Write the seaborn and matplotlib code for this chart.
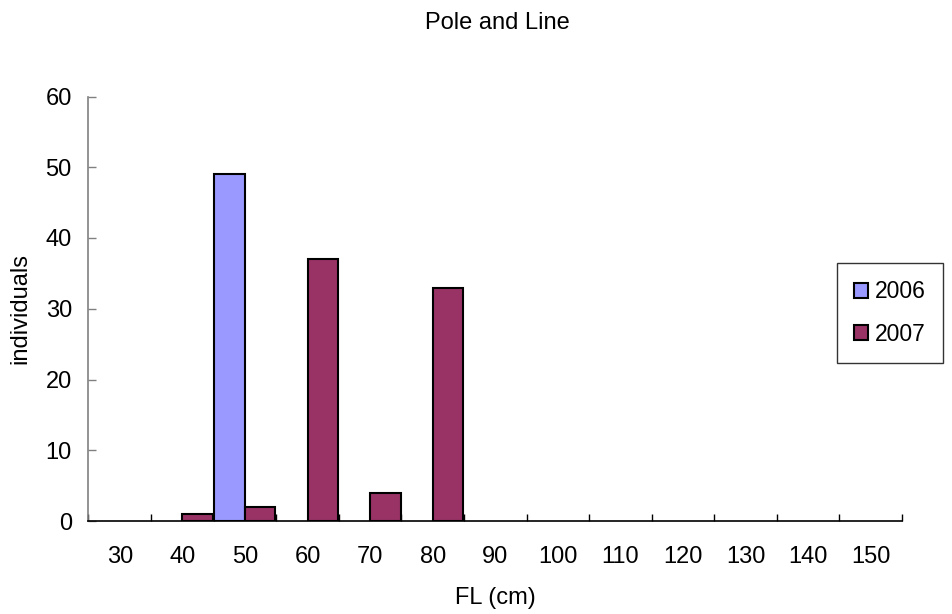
import numpy as np
import pandas as pd
import seaborn as sns
import matplotlib.pyplot as plt
from matplotlib.ticker import FixedLocator

# FL classes (cm) and counts per year
fl_classes = ["30", "40", "50", "60", "70", "80", "90", "100", "110", "120", "130", "140", "150"]
years = ["2006", "2007"]
counts_2006 = [0, 0, 49, 0, 0, 0, 0, 0, 0, 0, 0, 0, 0]
counts_2007 = [0, 1, 2, 37, 4, 33, 0, 0, 0, 0, 0, 0, 0]

rows = []
for year, vals in zip(years, [counts_2006, counts_2007]):
    for fl, v in zip(fl_classes, vals):
        if v > 0:
            rows.append({"FL": fl, "year": year, "count": v})
df = pd.DataFrame(rows)

sns.set_style("white")
plt.rcParams["font.family"] = ["Liberation Sans", "DejaVu Sans"]
plt.rcParams["text.color"] = "black"
plt.rcParams["axes.labelcolor"] = "black"

fig = plt.figure(figsize=(9.53, 6.14), dpi=100)
# plot area: x 88.5..902 px, y 96.5..521 px
ax = fig.add_axes([88.5 / 953, 1 - 521 / 614, 813.5 / 953, 424.5 / 614])

sns.barplot(data=df, x="FL", y="count", hue="year", order=fl_classes, hue_order=years,
            palette=["#9999FF", "#993366"], width=0.975, gap=0, edgecolor="black",
            linewidth=1.5, ax=ax, errorbar=None, saturation=1)

ax.set_xlim(-0.5, len(fl_classes) - 0.5)
ax.set_ylim(0, 60)
ax.set_yticks(range(0, 61, 10))

# tick marks between classes, labels centred
ax.xaxis.set_minor_locator(FixedLocator(np.arange(-0.5, len(fl_classes), 1.0)))
ax.tick_params(axis="x", which="major", bottom=True, length=0, pad=18, labelsize=17,
               labelcolor="black")
ax.tick_params(axis="x", which="minor", bottom=True, length=5, width=1, color="black",
               direction="in")
ax.tick_params(axis="y", left=True, length=6, width=1, color="#808080", direction="in",
               labelsize=17, pad=12, labelcolor="black")

for s in ["top", "right"]:
    ax.spines[s].set_visible(False)
ax.spines["left"].set_color("#808080")
ax.spines["left"].set_linewidth(1.2)
ax.spines["bottom"].set_color("black")
ax.spines["bottom"].set_linewidth(1.2)

ax.set_xlabel("FL (cm)", fontsize=17, labelpad=14)
ax.set_ylabel("individuals", fontsize=17, labelpad=10)
fig.text(497 / 953, 1 - 23 / 614, "Pole and Line", ha="center", va="center", fontsize=17)

leg = ax.legend(loc="upper left", bbox_to_anchor=((837 - 88.5) / 813.5, (521 - 263) / 424.5),
                borderaxespad=0, fontsize=16.5, frameon=True, fancybox=False,
                edgecolor="black", handlelength=0.62, handleheight=0.62,
                handletextpad=0.3, labelspacing=0.85, borderpad=0.75, title=None)
leg.get_frame().set_linewidth(1)
for h in leg.legend_handles:
    h.set_linewidth(1.5)

fig.savefig("out.png", dpi=100)
